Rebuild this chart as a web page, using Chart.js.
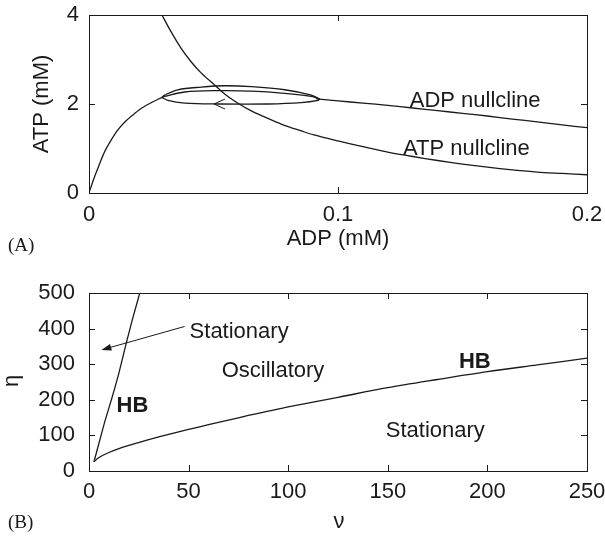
<!DOCTYPE html>
<html>
<head>
<meta charset="utf-8">
<script src="https://cdn.jsdelivr.net/npm/chart.js@4.4.1/dist/chart.umd.min.js"></script>
<style>
  html, body { margin: 0; padding: 0; background: #fff; }
  #wrap { position: relative; width: 605px; height: 536px; }
  canvas { position: absolute; left: 0; }
  #chartA { top: 0; }
  #chartB { top: 268px; }
</style>
</head>
<body>
<div id="wrap">
  <canvas id="chartA" width="605" height="268"></canvas>
  <canvas id="chartB" width="605" height="268"></canvas>
</div>
<script>
// --- panel A: phase plane (ADP, ATP) ---
const adpTicks = [0, 0.1, 0.2];
const atpTicks = [0, 2, 4];

// ADP nullcline, rising part (origin up to the cycle)
const adpNullLeftX = [0, 0.002, 0.004, 0.0063, 0.009, 0.0116, 0.015, 0.0184, 0.0215, 0.025, 0.0293];
const adpNullLeftY = [0, 0.33, 0.62, 0.93, 1.20, 1.42, 1.63, 1.79, 1.92, 2.03, 2.15];
// ADP nullcline, after the cycle
const adpNullRightX = [0.0913, 0.1, 0.11, 0.12, 0.13, 0.14, 0.15, 0.16, 0.17, 0.18, 0.19, 0.2];
const adpNullRightY = [2.115, 2.07, 2.02, 1.97, 1.91, 1.85, 1.79, 1.73, 1.66, 1.60, 1.53, 1.47];

// ATP nullcline
const atpNullX = [0.0293, 0.033, 0.037, 0.041, 0.045, 0.05, 0.055, 0.06, 0.065, 0.07, 0.075, 0.08, 0.085, 0.09,
                  0.1, 0.11, 0.12, 0.13, 0.14, 0.15, 0.16, 0.17, 0.18, 0.19, 0.2];
const atpNullY = [4.0, 3.62, 3.25, 2.95, 2.70, 2.45, 2.20, 2.01, 1.85, 1.72, 1.60, 1.49, 1.40, 1.31,
                  1.17, 1.04, 0.92, 0.82, 0.73, 0.65, 0.58, 0.52, 0.47, 0.44, 0.41];

// limit cycle, three branches from left tip to right tip
const cycleLowX = [0.0293, 0.0317, 0.0384, 0.0518, 0.0719, 0.0853, 0.0920, 0.0927];
const cycleLowY = [2.15, 2.08, 2.02, 2.00, 2.00, 2.03, 2.08, 2.11];
const cycleOuterX = [0.0293, 0.0304, 0.0357, 0.0451, 0.0545, 0.0652, 0.0786, 0.0893, 0.0927];
const cycleOuterY = [2.15, 2.20, 2.32, 2.38, 2.41, 2.39, 2.32, 2.20, 2.11];
const cycleInnerX = [0.0293, 0.0304, 0.0384, 0.0518, 0.0652, 0.0786, 0.0893, 0.0927];
const cycleInnerY = [2.15, 2.17, 2.27, 2.30, 2.29, 2.24, 2.17, 2.11];

// --- panel B: (nu, eta) bifurcation diagram ---
const nuTicks = [0, 50, 100, 150, 200, 250];
const etaTicks = [0, 100, 200, 300, 400, 500];

const hbLeftNu = [2.5, 5, 8, 11.5, 15, 18.7, 22, 25.5];
const hbLeftEta = [26, 78, 140, 205, 275, 359, 430, 500];

const hbLowNu = [2.5, 5, 10, 15, 20, 25, 30, 40, 50, 60, 70, 80, 90, 100, 125, 150, 175, 200, 225, 250];
const hbLowEta = [26, 38, 52, 63, 72, 80, 88, 103, 117, 130, 143, 156, 168, 180, 207, 234, 257, 279, 298, 317];

const pts = (xs, ys) => xs.map((v, i) => ({ x: v, y: ys[i] }));

const INK = '#1a1a1a';
const SANS = '"Liberation Sans", Arial, sans-serif';
const SERIF = '"Liberation Serif", "Times New Roman", serif';

const lineSet = (data, tension) => ({
    data, showLine: true, pointRadius: 0, borderColor: INK, borderWidth: 1.3,
    tension: tension, fill: false
});

// frame with inward ticks on all four sides
const frameTicks = {
    id: 'frameTicks',
    afterDraw(chart) {
        const { ctx, chartArea: a, scales: { x, y } } = chart;
        ctx.save();
        ctx.strokeStyle = INK;
        ctx.lineWidth = 1;
        ctx.strokeRect(Math.round(a.left) + 0.5, Math.round(a.top) + 0.5,
            Math.round(a.right - a.left), Math.round(a.bottom - a.top));
        ctx.beginPath();
        x.ticks.forEach(t => {
            const px = Math.round(x.getPixelForValue(t.value)) + 0.5;
            ctx.moveTo(px, a.bottom); ctx.lineTo(px, a.bottom - 6);
            ctx.moveTo(px, a.top); ctx.lineTo(px, a.top + 6);
        });
        y.ticks.forEach(t => {
            const py = Math.round(y.getPixelForValue(t.value)) + 0.5;
            ctx.moveTo(a.left, py); ctx.lineTo(a.left + 6, py);
            ctx.moveTo(a.right, py); ctx.lineTo(a.right - 6, py);
        });
        ctx.stroke();
        ctx.restore();
    }
};

// texts: notes in data coords, titles in pixels
const notesPlugin = {
    id: 'notes',
    afterDraw(chart, args, opts) {
        const { ctx, scales: { x, y } } = chart;
        ctx.save();
        ctx.fillStyle = INK;
        ctx.textBaseline = 'alphabetic';
        (opts.notes || []).forEach(n => {
            ctx.font = (n.bold ? 'bold ' : '') + '22px ' + SANS;
            ctx.textAlign = 'left';
            ctx.fillText(n.text, x.getPixelForValue(n.x), y.getPixelForValue(n.y));
        });
        (opts.titles || []).forEach(t => {
            ctx.save();
            ctx.font = t.font;
            ctx.textAlign = t.align || 'center';
            ctx.translate(t.px, t.py);
            if (t.rot) ctx.rotate(-Math.PI / 2);
            ctx.fillText(t.text, 0, 0);
            ctx.restore();
        });
        if (opts.arrows) opts.arrows(ctx, x, y);
        ctx.restore();
    }
};

const axisOpts = (min, max, step, fmt, side, size, pad) => ({
    type: 'linear', min, max,
    afterBuildTicks: s => { s.ticks = side.map(v => ({ value: v })); },
    ticks: { stepSize: step, padding: pad, color: INK, font: { family: SANS, size: 22 }, callback: fmt },
    grid: { display: false },
    border: { display: false },
    afterFit: s => {
        if (s.isHorizontal()) s.height = size; else s.width = size;
        // keep label overhang from shrinking the plot area
        s.paddingLeft = s.paddingRight = s.paddingTop = s.paddingBottom = 0;
    }
});

// ---------- chart A ----------
new Chart(document.getElementById('chartA'), {
    type: 'scatter',
    data: {
        datasets: [
            lineSet(pts(adpNullLeftX, adpNullLeftY), 0.3),
            lineSet(pts(adpNullRightX, adpNullRightY), 0.3),
            lineSet(pts(atpNullX, atpNullY), 0.3),
            lineSet(pts(cycleLowX, cycleLowY), 0.35),
            lineSet(pts(cycleOuterX, cycleOuterY), 0.35),
            lineSet(pts(cycleInnerX, cycleInnerY), 0.35)
        ]
    },
    options: {
        responsive: false,
        animation: false,
        events: [],
        layout: { padding: { top: 15, right: 18, left: 0, bottom: 0 } },
        scales: {
            x: axisOpts(0, 0.2, 0.1, v => String(+v.toFixed(2)), adpTicks, 75, 1),
            y: axisOpts(0, 4, 2, v => String(v), atpTicks, 89, 2)
        },
        plugins: {
            legend: { display: false },
            tooltip: { enabled: false },
            notes: {
                notes: [
                    { text: 'ADP nullcline', x: 0.1288, y: 1.94 },
                    { text: 'ATP nullcline', x: 0.1261, y: 0.86 }
                ],
                titles: [
                    { text: 'ADP (mM)', px: 338, py: 245, font: '22px ' + SANS },
                    { text: 'ATP (mM)', px: 48, py: 104, rot: true, font: '22px ' + SANS },
                    { text: '(A)', px: 8, py: 251, align: 'left', font: '19px ' + SERIF }
                ],
                arrows: (ctx, x, y) => {
                    // open chevron on the lower branch of the cycle
                    const tx = x.getPixelForValue(0.0502), ty = y.getPixelForValue(2.0);
                    ctx.strokeStyle = INK;
                    ctx.lineWidth = 1;
                    ctx.beginPath();
                    ctx.moveTo(tx + 11, ty - 5); ctx.lineTo(tx, ty); ctx.lineTo(tx + 11, ty + 5);
                    ctx.stroke();
                }
            }
        }
    },
    plugins: [frameTicks, notesPlugin]
});

// ---------- chart B ----------
new Chart(document.getElementById('chartB'), {
    type: 'scatter',
    data: {
        datasets: [
            lineSet(pts(hbLeftNu, hbLeftEta), 0.2),
            lineSet(pts(hbLowNu, hbLowEta), 0.3)
        ]
    },
    options: {
        responsive: false,
        animation: false,
        events: [],
        layout: { padding: { top: 25, right: 18, left: 0, bottom: 0 } },
        scales: {
            x: axisOpts(0, 250, 50, v => String(v), nuTicks, 65, 0),
            y: axisOpts(0, 500, 100, v => String(v), etaTicks, 89, 6)
        },
        plugins: {
            legend: { display: false },
            tooltip: { enabled: false },
            notes: {
                notes: [
                    { text: 'Stationary', x: 50.5, y: 374 },
                    { text: 'Oscillatory', x: 66.6, y: 265 },
                    { text: 'HB', x: 13.8, y: 167, bold: true },
                    { text: 'HB', x: 185.7, y: 290.7, bold: true },
                    { text: 'Stationary', x: 149, y: 96.5 }
                ],
                titles: [
                    { text: 'ν', px: 339, py: 260, font: '22px ' + SANS },
                    { text: 'η', px: 18, py: 113, rot: true, font: '22px ' + SANS },
                    { text: '(B)', px: 8, py: 260, align: 'left', font: '19px ' + SERIF }
                ],
                arrows: (ctx, x, y) => {
                    // arrow from the "Stationary" label to the left region
                    const x0 = x.getPixelForValue(48), y0 = y.getPixelForValue(406);
                    const x1 = x.getPixelForValue(6.2), y1 = y.getPixelForValue(340);
                    const ang = Math.atan2(y1 - y0, x1 - x0);
                    ctx.strokeStyle = INK;
                    ctx.lineWidth = 1;
                    ctx.beginPath();
                    ctx.moveTo(x0, y0);
                    ctx.lineTo(x1 - 8 * Math.cos(ang), y1 - 8 * Math.sin(ang));
                    ctx.stroke();
                    ctx.beginPath();
                    ctx.moveTo(x1, y1);
                    ctx.lineTo(x1 - 10 * Math.cos(ang) + 3.5 * Math.sin(ang), y1 - 10 * Math.sin(ang) - 3.5 * Math.cos(ang));
                    ctx.lineTo(x1 - 10 * Math.cos(ang) - 3.5 * Math.sin(ang), y1 - 10 * Math.sin(ang) + 3.5 * Math.cos(ang));
                    ctx.closePath();
                    ctx.fill();
                }
            }
        }
    },
    plugins: [frameTicks, notesPlugin]
});
</script>
</body>
</html>
